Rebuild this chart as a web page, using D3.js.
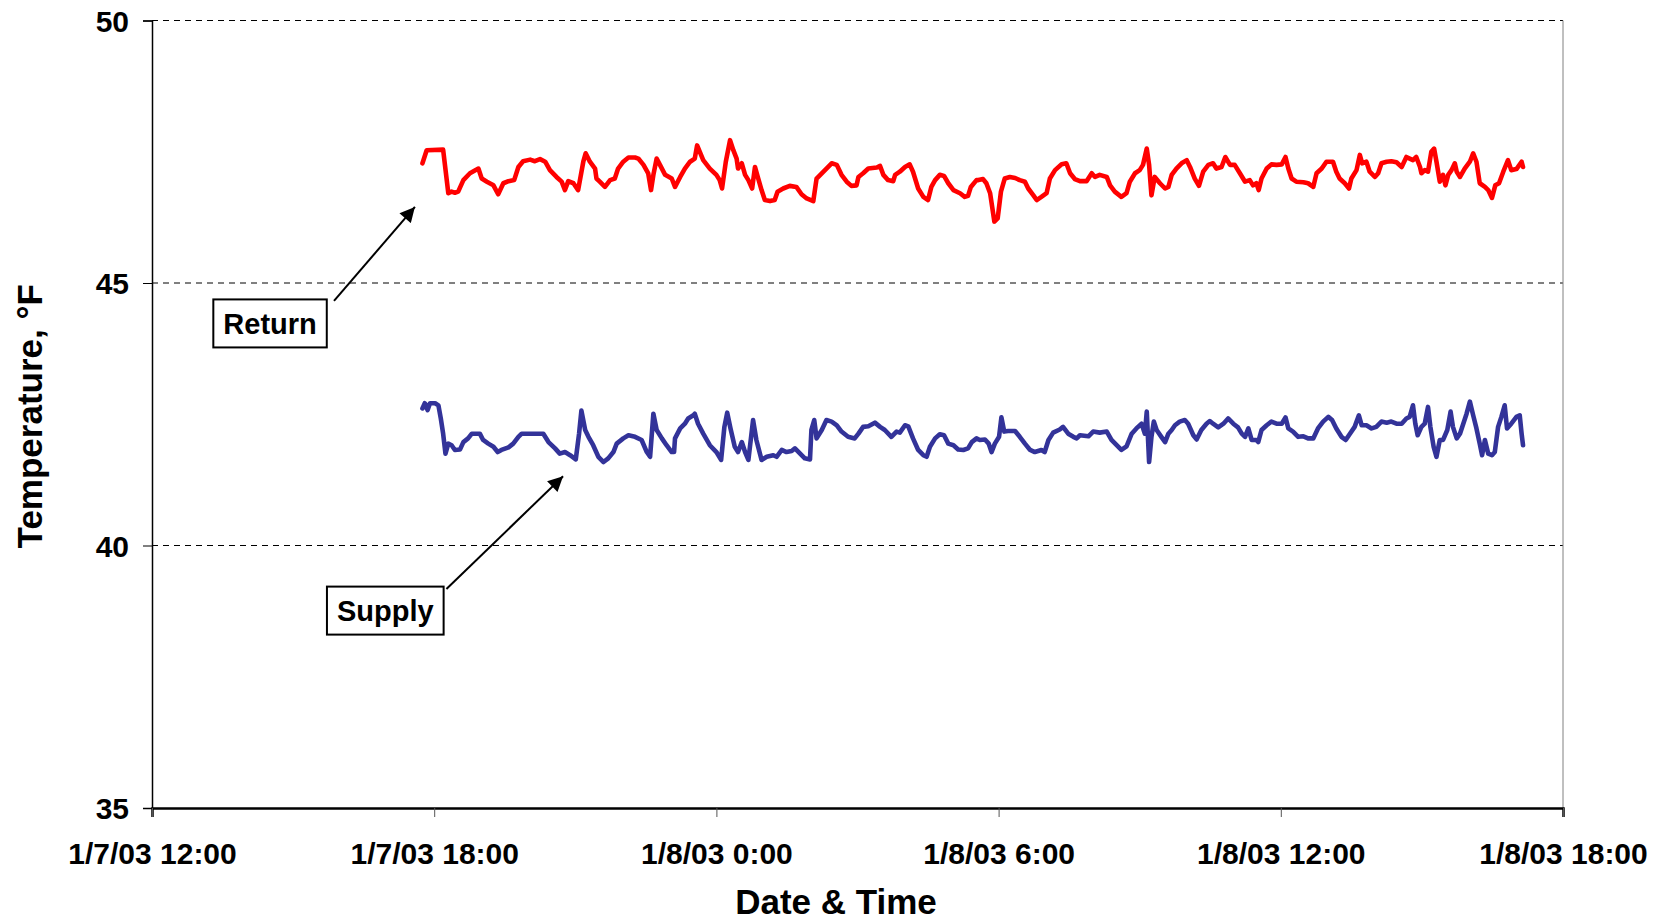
<!DOCTYPE html>
<html>
<head>
<meta charset="utf-8">
<script src="https://cdn.jsdelivr.net/npm/d3@7"></script>
<style>
  html, body { margin: 0; padding: 0; background: #fff; }
  svg { display: block; }
  text { font-family: "Liberation Sans", Arial, sans-serif; font-weight: bold; fill: #000; }
</style>
</head>
<body>
<svg id="chart" width="1665" height="920"></svg>
<script>
// ---- DATA (hours since 1/7/03 0:00, temperature °F) ----
const returnData = [
[17.75,47.28],[17.84,47.53],[18.19,47.54],[18.30,46.71],[18.37,46.74],[18.44,46.72],[18.51,46.74],
[18.62,46.96],[18.76,47.09],[18.94,47.18],[19.01,46.99],[19.12,46.93],[19.26,46.86],[19.36,46.69],
[19.47,46.90],[19.58,46.94],[19.70,46.96],[19.79,47.21],[19.89,47.32],[20.04,47.35],[20.14,47.32],
[20.25,47.36],[20.36,47.31],[20.46,47.15],[20.60,47.02],[20.71,46.93],[20.78,46.77],[20.85,46.94],
[20.96,46.90],[21.06,46.77],[21.17,47.31],[21.22,47.47],[21.31,47.31],[21.42,47.18],[21.45,46.99],
[21.52,46.93],[21.63,46.83],[21.74,46.96],[21.84,46.99],[21.91,47.18],[22.02,47.31],[22.13,47.39],
[22.27,47.39],[22.34,47.37],[22.45,47.25],[22.55,47.09],[22.61,46.77],[22.66,47.06],[22.73,47.37],
[22.80,47.25],[22.91,47.06],[23.05,46.99],[23.12,46.83],[23.23,47.02],[23.33,47.18],[23.44,47.31],
[23.54,47.37],[23.59,47.62],[23.72,47.34],[23.86,47.18],[24.00,47.06],[24.07,46.96],[24.12,46.80],
[24.20,47.31],[24.29,47.72],[24.36,47.53],[24.43,47.37],[24.46,47.18],[24.54,47.28],[24.61,47.06],
[24.68,46.96],[24.76,46.80],[24.82,47.21],[24.89,46.99],[24.96,46.77],[25.03,46.58],[25.14,46.56],
[25.24,46.58],[25.30,46.74],[25.42,46.80],[25.56,46.85],[25.70,46.83],[25.81,46.69],[25.92,46.61],
[26.06,46.56],[26.13,46.99],[26.24,47.09],[26.34,47.18],[26.45,47.28],[26.56,47.25],[26.66,47.06],
[26.77,46.93],[26.87,46.85],[26.98,46.86],[27.02,47.02],[27.12,47.09],[27.23,47.18],[27.41,47.20],
[27.48,47.23],[27.55,47.06],[27.65,46.96],[27.76,46.94],[27.80,47.06],[27.90,47.12],[28.01,47.21],
[28.11,47.26],[28.18,47.12],[28.29,46.80],[28.40,46.64],[28.50,46.58],[28.57,46.83],[28.65,46.96],
[28.75,47.06],[28.84,47.04],[28.93,46.90],[29.04,46.77],[29.18,46.71],[29.28,46.64],[29.35,46.66],
[29.41,46.83],[29.53,46.96],[29.57,46.96],[29.67,46.98],[29.74,46.90],[29.82,46.71],[29.91,46.17],
[29.98,46.23],[30.05,46.74],[30.13,46.99],[30.24,47.02],[30.35,47.00],[30.45,46.96],[30.56,46.93],
[30.63,46.80],[30.74,46.67],[30.81,46.58],[30.91,46.64],[31.02,46.71],[31.09,46.99],[31.20,47.15],
[31.34,47.26],[31.44,47.28],[31.52,47.09],[31.62,46.98],[31.73,46.94],[31.87,46.94],[31.98,47.09],
[32.05,47.02],[32.15,47.06],[32.30,47.02],[32.37,46.86],[32.47,46.74],[32.61,46.64],[32.72,46.71],
[32.79,46.93],[32.90,47.09],[33.00,47.15],[33.07,47.25],[33.15,47.56],[33.20,47.25],[33.25,46.67],
[33.32,47.02],[33.43,46.90],[33.54,46.80],[33.61,46.83],[33.68,47.06],[33.78,47.18],[33.89,47.28],
[34.00,47.34],[34.07,47.21],[34.17,46.99],[34.26,46.85],[34.35,47.12],[34.46,47.25],[34.56,47.28],
[34.63,47.18],[34.74,47.21],[34.82,47.40],[34.92,47.25],[35.02,47.25],[35.13,47.09],[35.24,46.93],
[35.34,46.96],[35.41,46.86],[35.48,46.90],[35.53,46.77],[35.59,46.99],[35.70,47.18],[35.80,47.26],
[35.91,47.25],[36.02,47.26],[36.10,47.40],[36.16,47.18],[36.23,46.99],[36.33,46.93],[36.48,46.92],
[36.58,46.90],[36.69,46.83],[36.76,47.09],[36.87,47.18],[36.97,47.31],[37.11,47.31],[37.18,47.12],
[37.25,46.99],[37.36,46.90],[37.45,46.80],[37.50,46.99],[37.61,47.15],[37.68,47.44],[37.73,47.28],
[37.82,47.31],[37.89,47.12],[38.00,47.02],[38.07,47.09],[38.14,47.28],[38.25,47.31],[38.35,47.32],
[38.46,47.30],[38.57,47.21],[38.67,47.40],[38.74,47.37],[38.81,47.34],[38.88,47.40],[38.96,47.21],
[38.99,47.09],[39.06,47.15],[39.13,47.12],[39.20,47.50],[39.26,47.56],[39.31,47.31],[39.38,46.93],
[39.45,47.06],[39.50,46.86],[39.56,47.06],[39.63,47.15],[39.70,47.28],[39.74,47.12],[39.81,47.02],
[39.91,47.18],[40.02,47.31],[40.09,47.47],[40.16,47.31],[40.23,46.90],[40.34,46.83],[40.41,46.77],
[40.49,46.62],[40.56,46.86],[40.64,46.90],[40.73,47.12],[40.83,47.34],[40.90,47.15],[41.01,47.17],
[41.12,47.31],[41.15,47.21]
];

const supplyData = [
[17.75,42.61],[17.80,42.71],[17.86,42.58],[17.91,42.71],[18.02,42.71],[18.09,42.67],[18.14,42.42],
[18.19,42.13],[18.24,41.75],[18.30,41.94],[18.37,41.91],[18.44,41.82],[18.55,41.83],[18.62,41.97],
[18.72,42.04],[18.80,42.13],[18.97,42.13],[19.04,42.01],[19.15,41.94],[19.26,41.88],[19.35,41.78],
[19.43,41.82],[19.58,41.87],[19.68,41.94],[19.79,42.07],[19.86,42.13],[20.32,42.13],[20.43,41.97],
[20.57,41.85],[20.67,41.75],[20.78,41.78],[20.89,41.72],[21.01,41.64],[21.08,42.13],[21.13,42.57],
[21.21,42.20],[21.28,42.07],[21.38,41.91],[21.49,41.69],[21.60,41.59],[21.70,41.66],[21.81,41.78],
[21.88,41.94],[22.02,42.04],[22.13,42.10],[22.27,42.07],[22.41,42.01],[22.52,41.78],[22.59,41.69],
[22.66,42.51],[22.73,42.20],[22.84,42.04],[22.94,41.91],[23.05,41.78],[23.10,41.78],[23.12,42.04],
[23.23,42.23],[23.33,42.32],[23.40,42.42],[23.51,42.48],[23.54,42.51],[23.61,42.32],[23.72,42.13],
[23.86,41.91],[24.00,41.78],[24.10,41.63],[24.17,42.26],[24.23,42.53],[24.30,42.23],[24.39,41.88],
[24.46,41.78],[24.54,41.97],[24.61,41.78],[24.68,41.63],[24.78,42.39],[24.85,42.01],[24.96,41.63],
[25.07,41.69],[25.21,41.72],[25.28,41.69],[25.39,41.82],[25.49,41.78],[25.60,41.80],[25.67,41.85],
[25.78,41.75],[25.88,41.66],[25.99,41.64],[26.02,42.20],[26.08,42.39],[26.13,42.04],[26.24,42.20],
[26.34,42.39],[26.45,42.36],[26.56,42.29],[26.66,42.17],[26.80,42.07],[26.94,42.04],[27.02,42.13],
[27.12,42.26],[27.23,42.27],[27.37,42.34],[27.48,42.26],[27.58,42.20],[27.72,42.07],[27.83,42.17],
[27.90,42.15],[28.01,42.29],[28.08,42.27],[28.18,42.04],[28.29,41.82],[28.40,41.72],[28.47,41.69],
[28.54,41.88],[28.65,42.04],[28.75,42.12],[28.84,42.10],[28.93,41.94],[29.04,41.91],[29.14,41.83],
[29.25,41.82],[29.35,41.85],[29.43,41.97],[29.53,42.04],[29.60,42.01],[29.71,42.02],[29.79,41.94],
[29.85,41.78],[29.92,41.94],[30.01,42.07],[30.06,42.44],[30.12,42.17],[30.20,42.18],[30.35,42.18],
[30.45,42.07],[30.56,41.94],[30.67,41.82],[30.77,41.78],[30.91,41.82],[30.98,41.78],[31.06,42.01],
[31.16,42.15],[31.30,42.21],[31.37,42.26],[31.48,42.13],[31.59,42.07],[31.66,42.04],[31.73,42.10],
[31.91,42.08],[32.01,42.17],[32.15,42.15],[32.30,42.17],[32.40,42.01],[32.51,41.91],[32.61,41.82],
[32.72,41.89],[32.83,42.13],[32.93,42.23],[33.04,42.32],[33.11,42.13],[33.15,42.55],[33.20,41.59],
[33.25,42.07],[33.30,42.36],[33.36,42.20],[33.46,42.07],[33.54,41.97],[33.61,42.13],[33.68,42.20],
[33.75,42.29],[33.85,42.36],[33.96,42.39],[34.03,42.32],[34.14,42.10],[34.21,42.02],[34.31,42.20],
[34.42,42.32],[34.49,42.37],[34.56,42.32],[34.67,42.25],[34.78,42.32],[34.88,42.42],[34.99,42.32],
[35.09,42.25],[35.17,42.13],[35.24,42.07],[35.31,42.23],[35.38,42.01],[35.48,42.01],[35.52,41.97],
[35.59,42.20],[35.70,42.29],[35.80,42.36],[35.91,42.32],[36.02,42.32],[36.10,42.44],[36.16,42.23],
[36.26,42.17],[36.37,42.07],[36.48,42.08],[36.58,42.04],[36.69,42.04],[36.79,42.23],[36.90,42.36],
[37.01,42.45],[37.09,42.39],[37.18,42.23],[37.29,42.07],[37.38,42.01],[37.47,42.13],[37.57,42.26],
[37.66,42.48],[37.72,42.29],[37.82,42.29],[37.93,42.23],[38.03,42.26],[38.14,42.36],[38.25,42.34],
[38.35,42.36],[38.46,42.32],[38.57,42.32],[38.67,42.42],[38.74,42.45],[38.81,42.67],[38.86,42.32],
[38.91,42.10],[38.99,42.26],[39.06,42.32],[39.13,42.64],[39.18,42.26],[39.25,41.88],[39.31,41.69],
[39.38,42.01],[39.45,42.01],[39.54,42.20],[39.61,42.55],[39.66,42.26],[39.74,42.04],[39.81,42.13],
[39.88,42.32],[39.95,42.51],[40.02,42.74],[40.09,42.48],[40.16,42.23],[40.23,41.94],[40.28,41.72],
[40.34,42.01],[40.41,41.75],[40.49,41.72],[40.55,41.78],[40.62,42.26],[40.69,42.45],[40.76,42.67],
[40.81,42.23],[40.90,42.32],[41.01,42.45],[41.08,42.48],[41.12,42.13],[41.15,41.91]
];

const yTicks = [35, 40, 45, 50];
const xTickHours = [12, 18, 24, 30, 36, 42];
const xTitle = "Date & Time";
const yTitle = "Temperature, °F";
// annotations: [label, box centre hour, box centre temp, arrow tail hour, tail temp, tip hour, tip temp]
const annotations = [
  ["Return", 14.51, 44.23, 15.87, 44.66, 17.59, 46.45],
  ["Supply", 16.96, 38.76, 18.26, 39.17, 20.74, 41.32]
];

// ---- CHART ----
const base = new Date(2003, 0, 7, 0, 0);
const toDate = h => new Date(base.getTime() + h * 3600e3);

const L = 152, R = 1563, T = 20.5, B = 808;
const svg = d3.select("#chart");

const x = d3.scaleTime().domain([toDate(12), toDate(42)]).range([L, R]);
const y = d3.scaleLinear().domain([35, 50]).range([B, T]);

// gridlines
svg.append("g").selectAll("line").data(yTicks.filter(v => v > 35)).join("line")
  .attr("x1", L).attr("x2", R)
  .attr("y1", d => y(d)).attr("y2", d => y(d))
  .attr("stroke", "#000").attr("stroke-width", 1).attr("stroke-dasharray", "6,5");

// right border
svg.append("line").attr("x1", R).attr("x2", R).attr("y1", T).attr("y2", B)
  .attr("stroke", "#808080").attr("stroke-width", 1);

// y axis
const yAxis = d3.axisLeft(y).tickValues(yTicks).tickSize(9).tickPadding(14).tickFormat(d3.format("d"));
const gy = svg.append("g").attr("transform", `translate(${L},0)`).call(yAxis);
gy.select(".domain").attr("stroke", "#000").attr("stroke-width", 1.5);
gy.selectAll(".tick line").attr("stroke", "#000").attr("stroke-width", 1);
gy.selectAll(".tick text").style("font-size", "30px").attr("dy", "0.36em")
  .style("font-family", '"Liberation Sans", Arial, sans-serif').style("font-weight", "bold");

// x axis
const fmt = d3.timeFormat("%-m/%-d/%y %-H:%M");
const xAxis = d3.axisBottom(x).tickValues(xTickHours.map(toDate)).tickSize(9).tickPadding(26).tickFormat(fmt);
const gx = svg.append("g").attr("transform", `translate(0,${B})`).call(xAxis);
gx.select(".domain").attr("stroke", "#000").attr("stroke-width", 2.5);
gx.selectAll(".tick line").attr("stroke", "#555").attr("stroke-width", 1);
gx.selectAll(".tick text").style("font-size", "30px")
  .style("font-family", '"Liberation Sans", Arial, sans-serif').style("font-weight", "bold");

// axis titles
svg.append("text").attr("x", 836).attr("y", 914).attr("text-anchor", "middle")
  .style("font-size", "35px").text(xTitle);
svg.append("text").attr("transform", `translate(42,${(T + B) / 2 + 2}) rotate(-90)`)
  .attr("text-anchor", "middle").style("font-size", "35px").text(yTitle);

// lines
const line = d3.line().x(d => x(toDate(d[0]))).y(d => y(d[1]));
svg.append("path").datum(returnData).attr("d", line)
  .attr("fill", "none").attr("stroke", "#FF0000").attr("stroke-width", 4.6)
  .attr("stroke-linejoin", "round").attr("stroke-linecap", "round");
svg.append("path").datum(supplyData).attr("d", line)
  .attr("fill", "none").attr("stroke", "#333399").attr("stroke-width", 4.6)
  .attr("stroke-linejoin", "round").attr("stroke-linecap", "round");

// annotations
svg.append("defs").append("marker").attr("id", "arrow")
  .attr("viewBox", "0 0 10 10").attr("refX", 10).attr("refY", 5)
  .attr("markerWidth", 16).attr("markerHeight", 15).attr("markerUnits", "userSpaceOnUse")
  .attr("orient", "auto")
  .append("path").attr("d", "M0,0 L10,5 L0,10 z").attr("fill", "#000");

annotations.forEach(([label, bh, bt, th, tt, ah, at]) => {
  svg.append("line")
    .attr("x1", x(toDate(th))).attr("y1", y(tt))
    .attr("x2", x(toDate(ah))).attr("y2", y(at))
    .attr("stroke", "#000").attr("stroke-width", 2)
    .attr("marker-end", "url(#arrow)");
  const cx = x(toDate(bh)), cy = y(bt);
  const g = svg.append("g");
  const t = g.append("text").attr("x", cx).attr("y", cy).attr("text-anchor", "middle")
    .attr("dy", "0.36em").style("font-size", "29px").text(label);
  const bb = t.node().getBBox();
  g.insert("rect", "text")
    .attr("x", bb.x - 10).attr("y", cy - 24)
    .attr("width", bb.width + 20).attr("height", 48)
    .attr("fill", "#fff").attr("stroke", "#000").attr("stroke-width", 2);
});
</script>
</body>
</html>
